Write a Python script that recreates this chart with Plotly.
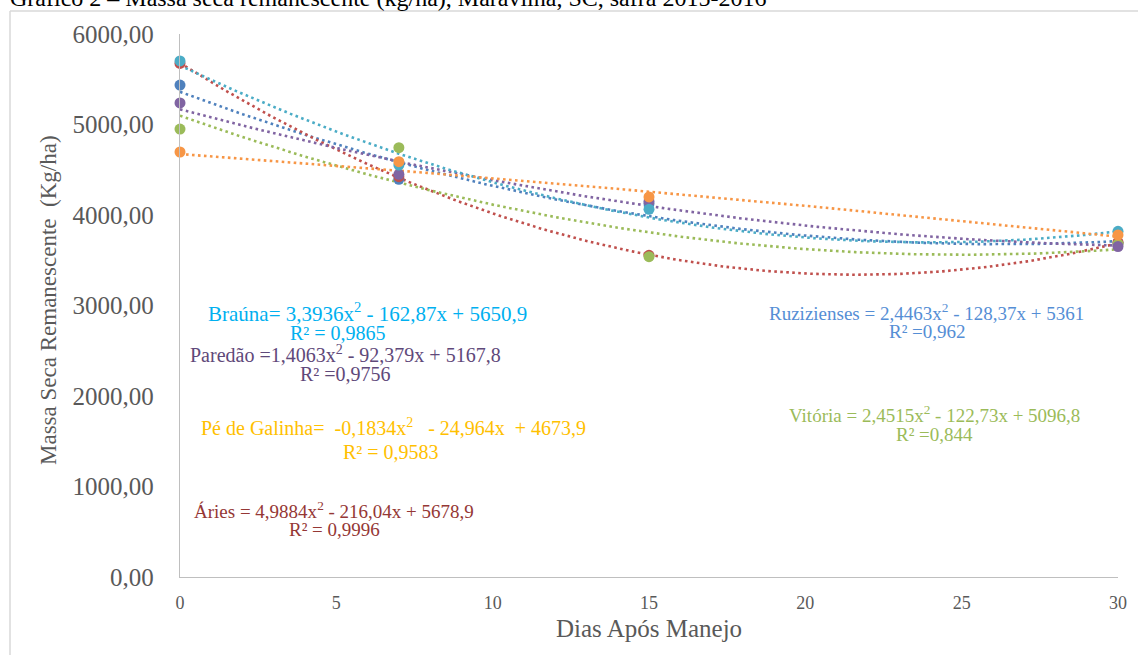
import numpy as np
import plotly.graph_objects as go

# ---------------- data ----------------
days = [0, 7, 15, 30]
series_names = ["Ruzizienses", "Áries", "Vitória", "Paredão", "Braúna", "Pé de Galinha"]
ruzizienses = [5436, 4394, 4124, 3690]
aries = [5675, 4423, 3555, 3700]
vitoria = [4950, 4744, 3540, 3680]
paredao = [5238, 4450, 4150, 3652]
brauna = [5702, 4552, 4063, 3820]
pe_de_galinha = [4696, 4589, 4200, 3779]

# quadratic trendline coefficients (a, b, c) for a*x^2 + b*x + c
coef_ruzizienses = [2.4463, -128.37, 5361]
coef_aries = [4.9884, -216.04, 5678.9]
coef_vitoria = [2.4515, -122.73, 5096.8]
coef_paredao = [1.4063, -92.379, 5167.8]
coef_brauna = [3.3936, -162.87, 5650.9]
coef_pe_de_galinha = [-0.1834, -24.964, 4673.9]

y_tickvals = [0, 1000, 2000, 3000, 4000, 5000, 6000]
y_ticktext = ["0,00", "1000,00", "2000,00", "3000,00", "4000,00", "5000,00", "6000,00"]
x_tickvals = [0, 5, 10, 15, 20, 25, 30]

colors = ["#4F81BD", "#C0504D", "#9BBB59", "#8064A2", "#4BACC6", "#F79646"]
values = [ruzizienses, aries, vitoria, paredao, brauna, pe_de_galinha]
coefs = [coef_ruzizienses, coef_aries, coef_vitoria, coef_paredao, coef_brauna, coef_pe_de_galinha]

# ---------------- layout geometry ----------------
W, H = 1138, 655
L, R, T, B = 180, 20, 34, 78
PW, PH = W - L - R, H - T - B


def px(xp, yp):
    return (xp - L) / PW, (H - B - yp) / PH


FONT = "Liberation Serif"

fig = go.Figure()

xs = np.linspace(0, 30, 301)
for name, col, coef in zip(series_names, colors, coefs):
    a, b, c = coef
    fig.add_trace(go.Scatter(
        x=xs, y=a * xs ** 2 + b * xs + c, mode="lines",
        line=dict(color=col, width=2.6, dash="2.6px,3.4px"),
        hoverinfo="skip", showlegend=False))

for name, col, vals in zip(series_names, colors, values):
    fig.add_trace(go.Scatter(
        x=days, y=vals, mode="markers", name=name,
        marker=dict(color=col, size=11),
        cliponaxis=False, showlegend=False))

annots = []
NB = "\u00a0"


def ann(text, xp, yp, color, size, xanchor="center", angle=0):
    x, y = px(xp, yp)
    annots.append(dict(text=text, x=x, y=y, xref="paper", yref="paper",
                       xanchor=xanchor, yanchor="middle", showarrow=False,
                       textangle=angle,
                       font=dict(family=FONT, size=size, color=color)))


ann("Braúna= 3,3936x<sup>2</sup> - 162,87x + 5650,9", 367, 312, "#00B0F0", 21)
ann("R² = 0,9865", 338, 333, "#00B0F0", 20)
ann("Paredão =1,4063x<sup>2</sup> - 92,379x + 5167,8", 345, 354, "#5F497A", 20)
ann("R² =0,9756", 345, 374, "#5F497A", 20)
ann(f"Pé de Galinha={NB} -0,1834x<sup>2</sup>{NB}{NB} - 24,964x{NB} + 4673,9", 393, 427, "#FFC000", 20)
ann("R² = 0,9583", 391, 452, "#FFC000", 20)
ann("Áries = 4,9884x<sup>2</sup> - 216,04x + 5678,9", 334, 510, "#953735", 19)
ann("R² = 0,9996", 334, 529, "#953735", 19)
ann("Ruzizienses = 2,4463x<sup>2</sup> - 128,37x + 5361", 926, 312, "#558ED5", 19)
ann("R² =0,962", 927, 332, "#558ED5", 19)
ann("Vitória = 2,4515x<sup>2</sup> - 122,73x + 5096,8", 934, 414, "#9BBB59", 19)
ann("R² =0,844", 934, 434, "#9BBB59", 19)

# axis titles
ann("Dias Após Manejo", 649, 628, "#595959", 25)
ann(f"Massa Seca Remanescente{NB}{NB}(Kg/ha)", 48, 300, "#595959", 23, angle=-90)
# cut-off caption at top
ann("Gráfico 2 – Massa seca remanescente (kg/ha), Maravilha, SC, safra 2015-2016",
    8, -2, "#000000", 24, xanchor="left")

# chart border (left and top)
x0, y0 = px(10, 11)
x1, y1 = px(W + 10, H + 10)
shapes = [
    dict(type="line", xref="paper", yref="paper", x0=x0, y0=y0, x1=x0, y1=y1,
         line=dict(color="#D9D9D9", width=1.5)),
    dict(type="line", xref="paper", yref="paper", x0=x0, y0=y0, x1=x1, y1=y0,
         line=dict(color="#D9D9D9", width=1.5)),
]

fig.update_layout(
    width=W, height=H, autosize=False,
    margin=dict(l=L, r=R, t=T, b=B, pad=0),
    paper_bgcolor="white", plot_bgcolor="white",
    showlegend=False,
    font=dict(family=FONT),
    annotations=annots, shapes=shapes,
    xaxis=dict(range=[0, 30], tickvals=x_tickvals, showgrid=False, zeroline=False,
               showline=True, linecolor="#BFBFBF", linewidth=1.3, ticks="",
               tickfont=dict(family=FONT, size=18, color="#595959"),
               ticklabelstandoff=9),
    yaxis=dict(range=[0, 6000], tickvals=y_tickvals, ticktext=y_ticktext,
               showgrid=False, zeroline=False,
               showline=True, linecolor="#BFBFBF", linewidth=1.3, ticks="",
               tickfont=dict(family=FONT, size=25, color="#595959"),
               ticklabelstandoff=20),
)

fig.write_html("out.html", config={"displayModeBar": False},
               post_script="document.body.style.margin='0';document.body.style.overflow='hidden';")
